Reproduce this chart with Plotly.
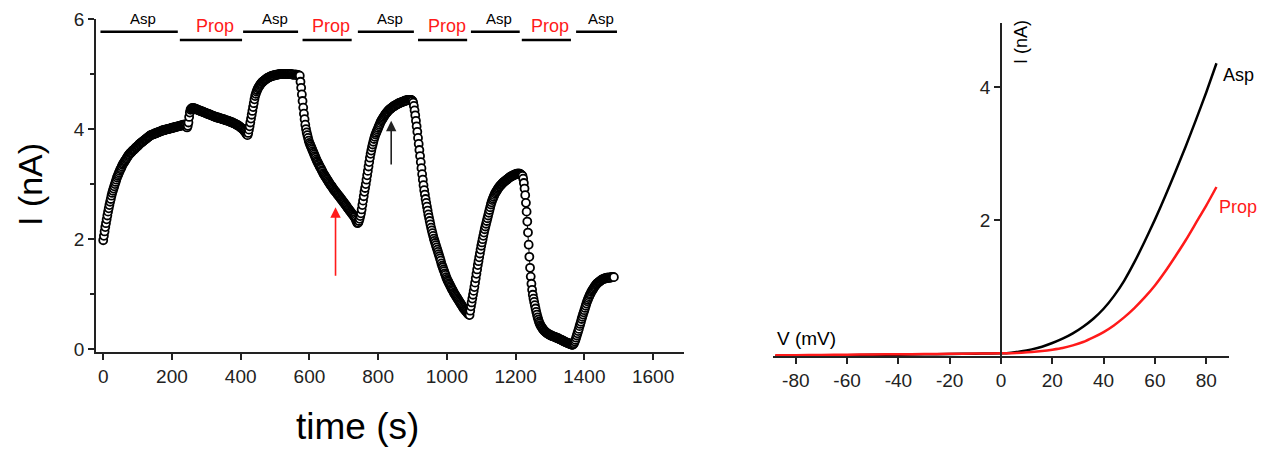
import plotly.graph_objects as go

# ---------------- Left panel data: current vs time (2 s sampling) ----------------
SAMPLE_INTERVAL_S = 2

seg_asp1_start = 0
seg_asp1 = [1.98, 2.06, 2.14, 2.22, 2.29, 2.36, 2.43, 2.50, 2.56, 2.62,
            2.68, 2.73, 2.79, 2.84, 2.88, 2.92, 2.96, 3.00, 3.04, 3.08,
            3.12, 3.15, 3.18, 3.21, 3.24, 3.27, 3.29, 3.32, 3.35, 3.37,
            3.39, 3.41, 3.43, 3.45, 3.47, 3.49, 3.51, 3.53, 3.54, 3.56,
            3.57, 3.58, 3.60, 3.61, 3.62, 3.63, 3.64, 3.66, 3.67, 3.68,
            3.69, 3.70, 3.72, 3.73, 3.74, 3.75, 3.76, 3.77, 3.78, 3.79,
            3.80, 3.81, 3.82, 3.83, 3.84, 3.85, 3.86, 3.87, 3.88, 3.89,
            3.89, 3.90, 3.90, 3.91, 3.91, 3.92, 3.92, 3.93, 3.93, 3.94,
            3.94, 3.95, 3.95, 3.96, 3.96, 3.97, 3.97, 3.98, 3.98, 3.98,
            3.99, 3.99, 3.99, 4.00, 4.00, 4.00, 4.01, 4.01, 4.01, 4.02,
            4.02, 4.02, 4.03, 4.03, 4.03, 4.04, 4.04, 4.04, 4.05, 4.05,
            4.05, 4.06, 4.06, 4.06, 4.07, 4.07, 4.07, 4.08, 4.08, 4.08]

seg_prop1_start = 240
seg_prop1 = [4.07, 4.04, 4.03, 4.06, 4.12, 4.22, 4.30, 4.35, 4.37, 4.38,
             4.38, 4.38, 4.38, 4.37, 4.37, 4.36, 4.36, 4.35, 4.35, 4.34,
             4.34, 4.33, 4.33, 4.32, 4.32, 4.31, 4.31, 4.30, 4.30, 4.29,
             4.29, 4.28, 4.28, 4.27, 4.27, 4.26, 4.26, 4.25, 4.25, 4.24,
             4.24, 4.23, 4.23, 4.22, 4.22, 4.21, 4.21, 4.21, 4.20, 4.20,
             4.20, 4.19, 4.19, 4.18, 4.18, 4.18, 4.17, 4.17, 4.16, 4.16,
             4.16, 4.15, 4.15, 4.14, 4.14, 4.13, 4.13, 4.12, 4.12, 4.11,
             4.11, 4.10, 4.09, 4.09, 4.08, 4.07, 4.07, 4.06, 4.05, 4.04,
             4.03, 4.02, 4.01, 4.00, 3.99, 3.97, 3.96, 3.94, 3.92, 3.90,
             3.89]

seg_asp2_start = 422
seg_asp2 = [3.93, 3.99, 4.05, 4.12, 4.19, 4.26, 4.33, 4.40, 4.47, 4.54,
            4.60, 4.64, 4.68, 4.71, 4.74, 4.76, 4.78, 4.80, 4.82, 4.83,
            4.85, 4.86, 4.87, 4.88, 4.89, 4.90, 4.91, 4.92, 4.93, 4.93,
            4.94, 4.95, 4.95, 4.96, 4.96, 4.97, 4.97, 4.97, 4.98, 4.98,
            4.98, 4.99, 4.99, 4.99, 4.99, 5.00, 5.00, 5.00, 5.00, 5.00,
            5.00, 5.00, 5.00, 5.00, 5.00, 5.00, 5.00, 5.00, 5.00, 5.00,
            5.00, 5.00, 5.00, 5.00, 4.99, 4.99, 4.99, 4.99, 4.99, 4.99,
            4.99, 4.98, 4.98, 4.98, 4.97, 4.97]

seg_prop2_start = 574
seg_prop2 = [4.86, 4.75, 4.63, 4.51, 4.39, 4.28, 4.18, 4.08, 4.00, 3.94,
             3.89, 3.84, 3.79, 3.75, 3.72, 3.69, 3.66, 3.63, 3.60, 3.57,
             3.54, 3.51, 3.48, 3.45, 3.42, 3.40, 3.37, 3.35, 3.32, 3.30,
             3.28, 3.25, 3.23, 3.20, 3.18, 3.16, 3.14, 3.12, 3.10, 3.08,
             3.06, 3.04, 3.02, 3.00, 2.98, 2.97, 2.95, 2.93, 2.91, 2.89,
             2.88, 2.86, 2.85, 2.83, 2.81, 2.80, 2.78, 2.77, 2.75, 2.73,
             2.72, 2.70, 2.68, 2.67, 2.65, 2.63, 2.62, 2.60, 2.58, 2.56,
             2.55, 2.53, 2.51, 2.50, 2.48, 2.46, 2.45, 2.43, 2.41, 2.40,
             2.37, 2.34, 2.31, 2.29, 2.30]

seg_asp3_start = 744
seg_asp3 = [2.33, 2.37, 2.42, 2.47, 2.54, 2.62, 2.70, 2.78, 2.86, 2.93,
            3.00, 3.08, 3.16, 3.24, 3.32, 3.40, 3.48, 3.55, 3.61, 3.67,
            3.72, 3.77, 3.82, 3.86, 3.90, 3.93, 3.96, 3.99, 4.02, 4.05,
            4.08, 4.11, 4.14, 4.16, 4.18, 4.20, 4.22, 4.24, 4.26, 4.28,
            4.29, 4.31, 4.32, 4.34, 4.35, 4.36, 4.37, 4.38, 4.39, 4.40,
            4.41, 4.42, 4.42, 4.43, 4.44, 4.45, 4.45, 4.46, 4.47, 4.47,
            4.48, 4.48, 4.49, 4.49, 4.50, 4.50, 4.51, 4.51, 4.52, 4.52,
            4.52, 4.53, 4.53, 4.53, 4.53, 4.53, 4.53, 4.52, 4.51]

seg_prop3_start = 902
seg_prop3 = [4.48, 4.42, 4.34, 4.25, 4.15, 4.05, 3.95, 3.84, 3.73, 3.62,
             3.51, 3.40, 3.29, 3.18, 3.08, 2.98, 2.89, 2.81, 2.73, 2.66,
             2.59, 2.52, 2.45, 2.39, 2.33, 2.27, 2.21, 2.16, 2.11, 2.06,
             2.01, 1.97, 1.93, 1.89, 1.85, 1.81, 1.77, 1.73, 1.69, 1.65,
             1.61, 1.56, 1.52, 1.49, 1.45, 1.42, 1.38, 1.35, 1.31, 1.28,
             1.25, 1.23, 1.20, 1.18, 1.15, 1.13, 1.10, 1.08, 1.06, 1.03,
             1.01, 0.99, 0.97, 0.95, 0.93, 0.91, 0.89, 0.87, 0.85, 0.83,
             0.81, 0.79, 0.77, 0.75, 0.73, 0.72, 0.70, 0.69, 0.67, 0.66,
             0.64, 0.63, 0.62]

seg_asp4_start = 1068
seg_asp4 = [0.70, 0.78, 0.85, 0.92, 0.99, 1.06, 1.13, 1.21, 1.29, 1.37,
            1.45, 1.53, 1.60, 1.67, 1.74, 1.81, 1.88, 1.94, 2.00, 2.06,
            2.12, 2.18, 2.23, 2.28, 2.33, 2.38, 2.43, 2.48, 2.53, 2.58,
            2.63, 2.67, 2.71, 2.74, 2.77, 2.80, 2.83, 2.85, 2.87, 2.89,
            2.91, 2.93, 2.95, 2.96, 2.98, 2.99, 3.00, 3.02, 3.03, 3.04,
            3.05, 3.06, 3.07, 3.08, 3.09, 3.10, 3.11, 3.12, 3.13, 3.14,
            3.14, 3.15, 3.16, 3.16, 3.17, 3.17, 3.18, 3.18, 3.19, 3.19,
            3.19, 3.19, 3.19, 3.18, 3.17, 3.16, 3.15]

seg_prop4_start = 1222
seg_prop4 = [3.10, 3.02, 2.92, 2.80, 2.66, 2.50, 2.32, 2.12, 1.90, 1.68,
             1.48, 1.32, 1.19, 1.08, 0.99, 0.92, 0.86, 0.80, 0.74, 0.68,
             0.63, 0.58, 0.54, 0.50, 0.47, 0.44, 0.42, 0.40, 0.38, 0.36,
             0.35, 0.33, 0.32, 0.31, 0.30, 0.29, 0.28, 0.27, 0.27, 0.26,
             0.25, 0.25, 0.24, 0.24, 0.23, 0.23, 0.22, 0.22, 0.21, 0.21,
             0.20, 0.20, 0.19, 0.18, 0.18, 0.17, 0.17, 0.16, 0.15, 0.15,
             0.14, 0.13, 0.13, 0.12, 0.12, 0.11, 0.11, 0.10, 0.10, 0.09,
             0.09, 0.08, 0.08]

seg_asp5_start = 1368
seg_asp5 = [0.09, 0.11, 0.14, 0.17, 0.21, 0.25, 0.29, 0.33, 0.37, 0.42,
            0.46, 0.50, 0.55, 0.59, 0.63, 0.67, 0.71, 0.75, 0.79, 0.83,
            0.87, 0.90, 0.93, 0.96, 0.99, 1.01, 1.04, 1.06, 1.08, 1.10,
            1.12, 1.14, 1.16, 1.17, 1.19, 1.20, 1.21, 1.22, 1.23, 1.24,
            1.25, 1.26, 1.27, 1.27, 1.28, 1.28, 1.29, 1.29, 1.29, 1.30,
            1.30, 1.30, 1.30, 1.30, 1.30, 1.31, 1.31, 1.31, 1.31, 1.31]

# Perfusion schedule (s)
treat_labels = ["Asp", "Prop", "Asp", "Prop", "Asp", "Prop", "Asp", "Prop", "Asp"]
treat_start = [-8, 223, 407, 580, 741, 916, 1070, 1218, 1376]
treat_end = [217, 404, 567, 723, 904, 1059, 1212, 1361, 1495]

# Arrows (time s, from current, to current)
red_arrow = (676, 1.31, 2.58)
black_arrow = (838, 3.33, 4.15)

# ---------------- Right panel data: I-V curves ----------------
voltage_mv = [-88, -80, -70, -60, -50, -40, -30, -20, -10, 0, 4, 8, 12, 16, 20,
              24, 28, 32, 36, 40, 44, 48, 52, 56, 60, 64, 68, 72, 76, 80, 84]
iv_asp = [-0.04, -0.035, -0.03, -0.027, -0.023, -0.02, -0.015, -0.01, -0.005, 0.0,
          0.01, 0.03, 0.06, 0.10, 0.155, 0.22, 0.30, 0.40, 0.52, 0.67, 0.86,
          1.09, 1.37, 1.68, 2.01, 2.36, 2.73, 3.11, 3.51, 3.92, 4.36]
iv_prop = [-0.03, -0.027, -0.024, -0.02, -0.017, -0.014, -0.01, -0.007, -0.003, 0.0,
           0.003, 0.01, 0.02, 0.035, 0.055, 0.08, 0.12, 0.17, 0.24, 0.32, 0.42,
           0.54, 0.68, 0.84, 1.02, 1.23, 1.46, 1.70, 1.96, 2.22, 2.50]

time_ticks = [0, 200, 400, 600, 800, 1000, 1200, 1400, 1600]
current_ticks = [0, 2, 4, 6]
current_minor = [1, 3, 5]
volt_ticks = [-80, -60, -40, -20, 0, 20, 40, 60, 80]
volt_ticktext = ["-80", "-60", "-40", "-20", "0", "20", "40", "60", "80"]
iv_ticks = [2, 4]

# ---------------- Build ----------------
segments = [(seg_asp1_start, seg_asp1), (seg_prop1_start, seg_prop1),
            (seg_asp2_start, seg_asp2), (seg_prop2_start, seg_prop2),
            (seg_asp3_start, seg_asp3), (seg_prop3_start, seg_prop3),
            (seg_asp4_start, seg_asp4), (seg_prop4_start, seg_prop4),
            (seg_asp5_start, seg_asp5)]
time_s, current_na = [], []
for start, vals in segments:
    for i, v in enumerate(vals):
        time_s.append(start + SAMPLE_INTERVAL_S * i)
        current_na.append(v)

# page has an 8 px body margin; the figure fills the rest of the 1275x456 window
OFF = 8
W, H = 1275 - 2 * OFF, 456 - 2 * OFF


def px_x(px):
    return (px - OFF) / W


def px_y(py):
    return 1 - (py - OFF) / H


FONT = "Liberation Sans, Arial, sans-serif"
AX = "#222222"
RED = "#ff1a1a"

fig = go.Figure()
fig.add_trace(go.Scatter(
    x=time_s, y=current_na, mode="lines+markers",
    line=dict(color="black", width=1),
    marker=dict(symbol="circle", size=8, color="white",
                line=dict(color="black", width=1.8)),
    xaxis="x", yaxis="y", showlegend=False, hoverinfo="x+y"))

fig.add_trace(go.Scatter(
    x=voltage_mv, y=iv_asp, mode="lines", line=dict(color="black", width=2.5, shape="spline", smoothing=0.6),
    xaxis="x2", yaxis="y2", showlegend=False))
fig.add_trace(go.Scatter(
    x=voltage_mv, y=iv_prop, mode="lines", line=dict(color=RED, width=2.5, shape="spline", smoothing=0.6),
    xaxis="x2", yaxis="y2", showlegend=False))

shapes, annotations = [], []
asp_bar_y, prop_bar_y = 5.77, 5.62
for lab, s, e in zip(treat_labels, treat_start, treat_end):
    is_asp = lab == "Asp"
    by = asp_bar_y if is_asp else prop_bar_y
    shapes.append(dict(type="line", xref="x", yref="y", x0=s, x1=e, y0=by, y1=by,
                       line=dict(color="black", width=2.5)))
    annotations.append(dict(xref="x", yref="y", x=(s + e) / 2, y=by,
                            text=lab, showarrow=False, xshift=4,
                            yshift=13 if is_asp else 14,
                            xanchor="center", yanchor="middle",
                            font=dict(family=FONT, size=15 if is_asp else 18,
                                      color="black" if is_asp else RED)))

for (ax_t, y0, y1), col in [(red_arrow, RED), (black_arrow, AX)]:
    annotations.append(dict(xref="x", yref="y", axref="x", ayref="y",
                            x=ax_t, y=y1, ax=ax_t, ay=y0, text="", showarrow=True,
                            arrowhead=2, arrowsize=1.3, arrowwidth=1.6, arrowcolor=col))

# axis titles left
annotations.append(dict(xref="paper", yref="paper", x=px_x(30), y=px_y(185),
                        xanchor="center", yanchor="middle",
                        text="I (nA)", textangle=-90, showarrow=False,
                        font=dict(family=FONT, size=34, color="black")))
annotations.append(dict(xref="paper", yref="paper", x=px_x(357), y=px_y(426),
                        xanchor="center", yanchor="middle",
                        text="time (s)", showarrow=False,
                        font=dict(family=FONT, size=37, color="black")))
# right panel labels
annotations.append(dict(xref="paper", yref="paper", x=px_x(1021), y=px_y(42),
                        xanchor="center", yanchor="middle",
                        text="I (nA)", textangle=-90, showarrow=False,
                        font=dict(family=FONT, size=18, color="black")))
annotations.append(dict(xref="paper", yref="paper", x=px_x(806), y=px_y(338),
                        xanchor="center", yanchor="middle",
                        text="V (mV)", showarrow=False,
                        font=dict(family=FONT, size=19, color="black")))
annotations.append(dict(xref="x2", yref="y2", x=voltage_mv[-1], y=iv_asp[-1],
                        text="Asp", showarrow=False, xanchor="left", yanchor="middle",
                        xshift=5, yshift=-12,
                        font=dict(family=FONT, size=18, color="black")))
annotations.append(dict(xref="x2", yref="y2", x=voltage_mv[-1], y=iv_prop[-1],
                        text="Prop", showarrow=False, xanchor="left", yanchor="middle",
                        xshift=1, yshift=-20,
                        font=dict(family=FONT, size=18, color=RED)))

fig.update_layout(
    width=W, height=H, autosize=False,
    margin=dict(l=0, r=0, t=0, b=0, pad=0, autoexpand=False),
    paper_bgcolor="white", plot_bgcolor="white",
    font=dict(family=FONT, color=AX),
    shapes=shapes, annotations=annotations,
    xaxis=dict(domain=[px_x(96), px_x(684)], range=[-21, 1690], autorange=False, anchor="y",
               tickvals=time_ticks, ticks="outside", ticklen=6, tickwidth=1.5, tickcolor=AX,
               showline=True, linecolor=AX, linewidth=1.5, showgrid=False, zeroline=False,
               tickfont=dict(size=19, color=AX, family=FONT)),
    yaxis=dict(domain=[px_y(352), px_y(19)], range=[-0.05, 6.0], autorange=False, anchor="x",
               tickvals=current_ticks, ticks="outside", ticklen=6, tickwidth=1.5, tickcolor=AX,
               minor=dict(tickvals=current_minor, ticks="outside", ticklen=4, tickwidth=1.5, tickcolor=AX),
               showline=True, linecolor=AX, linewidth=1.5, showgrid=False, zeroline=False,
               tickfont=dict(size=19, color=AX, family=FONT)),
    xaxis2=dict(domain=[px_x(772.7), px_x(1229.3)], range=[-89, 89], autorange=False, anchor="y2",
                tickvals=volt_ticks, ticktext=volt_ticktext,
                ticks="outside", ticklen=6, tickwidth=1.5, tickcolor=AX,
                showline=True, linecolor=AX, linewidth=1.5, showgrid=False, zeroline=False,
                tickfont=dict(size=19, color=AX, family=FONT)),
    yaxis2=dict(domain=[px_y(356), px_y(22.7)], range=[-0.04, 4.97], autorange=False, anchor="free",
                position=px_x(1000.9), side="left",
                tickvals=iv_ticks, ticks="outside", ticklen=6, tickwidth=1.5, tickcolor=AX,
                showline=True, linecolor=AX, linewidth=1.5, showgrid=False, zeroline=False,
                tickfont=dict(size=19, color=AX, family=FONT)),
)

fig.write_html("out.html")
